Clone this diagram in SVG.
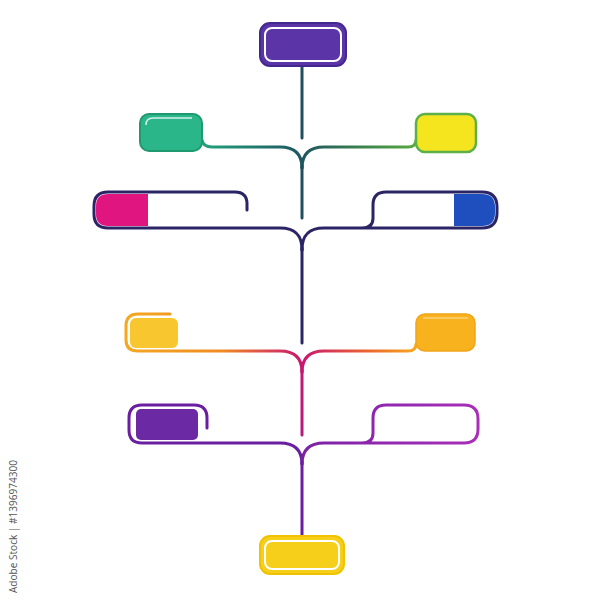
<svg xmlns="http://www.w3.org/2000/svg" width="600" height="600" viewBox="0 0 600 600">
<defs>
<linearGradient id="g1l" gradientUnits="userSpaceOnUse" x1="200" y1="0" x2="302" y2="0"><stop offset="0" stop-color="#22a57c"/><stop offset="1" stop-color="#1f5560"/></linearGradient>
<linearGradient id="g1r" gradientUnits="userSpaceOnUse" x1="302" y1="0" x2="416" y2="0"><stop offset="0" stop-color="#1f5560"/><stop offset="1" stop-color="#55ab3e"/></linearGradient>
<linearGradient id="g3l" gradientUnits="userSpaceOnUse" x1="125" y1="0" x2="302" y2="0"><stop offset="0" stop-color="#f4a81f"/><stop offset="0.55" stop-color="#f08a25"/><stop offset="1" stop-color="#c8176f"/></linearGradient>
<linearGradient id="g3r" gradientUnits="userSpaceOnUse" x1="302" y1="0" x2="416" y2="0"><stop offset="0" stop-color="#c8176f"/><stop offset="0.6" stop-color="#ec6a2c"/><stop offset="1" stop-color="#f6a81f"/></linearGradient>
<linearGradient id="g4r" gradientUnits="userSpaceOnUse" x1="302" y1="0" x2="478" y2="0"><stop offset="0" stop-color="#7a22a6"/><stop offset="1" stop-color="#a92fb8"/></linearGradient>
<linearGradient id="gs3" gradientUnits="userSpaceOnUse" x1="0" y1="351" x2="0" y2="436"><stop offset="0" stop-color="#c8176f"/><stop offset="1" stop-color="#b8197e"/></linearGradient>
</defs>
<style>
.ln{fill:none;stroke-width:3;stroke-linecap:round;stroke-linejoin:round}
.inner{fill:none;stroke:#ffffff;stroke-width:2}
.wm{font-family:"Open Sans","Liberation Sans",sans-serif;font-size:10.5px;fill:#555555}
</style>

<g id="connectors">
  <!-- top stem -->
  <line class="ln" x1="302" y1="66" x2="302" y2="138" stroke="#1f4f5c"/>
  <!-- level 1 -->
  <path class="ln" d="M202,140 Q203,147 212,147 L280,147 C296,147 302,155 302,168" stroke="url(#g1l)"/>
  <path class="ln" d="M302,168 C302,155 308,147 324,147 L408,147 Q416,147 416,140" stroke="url(#g1r)"/>
  <line class="ln" x1="302" y1="166" x2="302" y2="218" stroke="#1f4f5c"/>
  <!-- level 2 -->
  <path class="ln" d="M247,210 L247,204 Q247,192 235,192 L108,192 Q94,192 94,206 L94,214 Q94,228 108,228 L280,228 C296,228 302,236 302,250" stroke="#2b2566"/>
  <path class="ln" d="M302,250 C302,236 308,228 324,228 L482,228 Q497,228 497,213 L497,207 Q497,192 482,192 L386,192 Q373,192 373,205 L373,218 Q373,228 362,228" stroke="#2b2566"/>
  <line class="ln" x1="302" y1="248" x2="302" y2="343" stroke="#2b2566"/>
  <!-- level 3 -->
  <path class="ln" d="M170,314 L138,314 Q126,314 126,326 L126,340 Q126,351 138,351 L280,351 C296,351 302,359 302,372" stroke="url(#g3l)"/>
  <path class="ln" d="M302,372 C302,359 308,351 324,351 L408,351 Q416,351 416,344" stroke="url(#g3r)"/>
  <line class="ln" x1="302" y1="370" x2="302" y2="435" stroke="url(#gs3)"/>
  <!-- level 4 -->
  <path class="ln" d="M207,428 L207,418 Q207,405 194,405 L142,405 Q129,405 129,418 L129,430 Q129,443 142,443 L280,443 C296,443 302,451 302,464" stroke="#6a1fa0"/>
  <path class="ln" d="M302,464 C302,451 308,443 324,443 L464,443 Q478,443 478,429 L478,419 Q478,405 464,405 L386,405 Q373,405 373,418 L373,433 Q373,443 362,443" stroke="url(#g4r)"/>
  <line class="ln" x1="302" y1="462" x2="302" y2="536" stroke="#6a1fa0"/>
</g>

<g id="node-top">
  <rect x="260" y="23" width="86" height="43" rx="10" fill="#5b35a8" stroke="#43288f" stroke-width="2"/>
  <rect x="265" y="28" width="76" height="33" rx="7" class="inner"/>
</g>

<g id="node-green">
  <rect x="140" y="114" width="62" height="37" rx="9" fill="#2bb68a" stroke="#1e9a6e" stroke-width="2"/>
  <path d="M146,125 Q146,118 153,118 L192,118" fill="none" stroke="#ffffff" stroke-width="1.5" opacity="0.8"/>
</g>

<g id="node-yellow">
  <rect x="416" y="114" width="60" height="38" rx="9" fill="#f4e51f" stroke="#5cb04a" stroke-width="2.5"/>
</g>

<g id="node-magenta">
  <path d="M148,194 L108,194 Q96,194 96,206 L96,214 Q96,226 108,226 L148,226 Z" fill="#e1157f"/>
</g>

<g id="node-blue">
  <path d="M454,194 L482,194 Q495,194 495,207 L495,213 Q495,226 482,226 L454,226 Z" fill="#1f4fbe"/>
</g>

<g id="node-orange-left">
  <rect x="130" y="318" width="48" height="30" rx="6" fill="#f8c62e"/>
</g>

<g id="node-orange-right">
  <rect x="416" y="314" width="59" height="37" rx="9" fill="#f8b21e" stroke="#f0a51a" stroke-width="1.5"/>
  <path d="M423,318 L468,318" stroke="#ffffff" stroke-width="1.2" opacity="0.6"/>
</g>

<g id="node-purple-left">
  <rect x="136" y="409" width="62" height="31" rx="5" fill="#6b2aa3"/>
</g>

<g id="node-bottom">
  <rect x="260" y="536" width="84" height="38" rx="10" fill="#f6cf1b" stroke="#f0c200" stroke-width="2"/>
  <rect x="265" y="541" width="74" height="28" rx="7" class="inner"/>
</g>

<text class="wm" transform="translate(17,593) rotate(-90)" textLength="133" lengthAdjust="spacingAndGlyphs">Adobe Stock | #1396974300</text>
</svg>
